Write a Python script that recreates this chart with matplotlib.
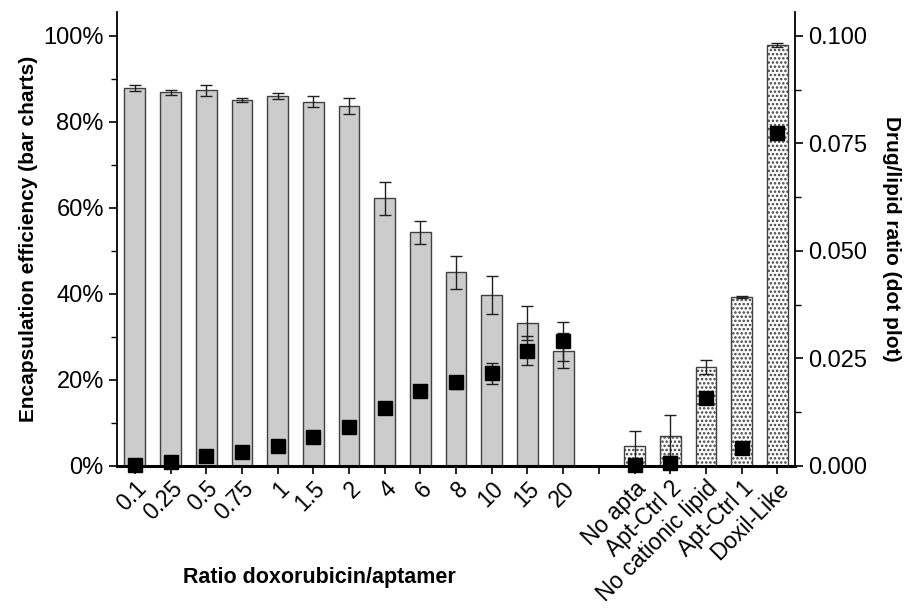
import numpy as np
import matplotlib.pyplot as plt
from matplotlib.ticker import MultipleLocator, FuncFormatter

plt.rcParams['font.family'] = ['Liberation Sans', 'DejaVu Sans']
plt.rcParams['hatch.linewidth'] = 1.2

ratios = ['0.1', '0.25', '0.5', '0.75', '1', '1.5', '2', '4', '6', '8', '10', '15', '20']
controls = ['No apta', 'Apt-Ctrl 2', 'No cationic lipid', 'Apt-Ctrl 1', 'Doxil-Like']

# encapsulation efficiency (%) with error
ee_ratio = [87.8, 86.9, 87.3, 85.0, 86.0, 84.7, 83.7, 62.2, 54.3, 45.0, 39.8, 33.2, 26.8]
ee_ratio_err = [0.7, 0.6, 1.35, 0.45, 0.6, 1.2, 1.9, 3.75, 2.6, 3.9, 4.4, 3.9, 4.0]
ee_ctrl = [4.7, 7.0, 22.9, 39.3, 97.8]
ee_ctrl_err = [3.3, 4.8, 1.65, 0.3, 0.5]

# drug/lipid ratio (dots)
dl_ratio = [0.0002, 0.0009, 0.0022, 0.0032, 0.0046, 0.0067, 0.0090, 0.0134, 0.0175,
            0.0194, 0.0215, 0.0268, 0.0290]
dl_ratio_err = [0, 0, 0, 0, 0, 0, 0, 0, 0, 0.0015, 0.0024, 0.0033, 0.0045]
dl_ctrl = [0.0003, 0.0006, 0.0157, 0.0041, 0.0775]
dl_ctrl_err = [0, 0, 0, 0, 0]

x_ratio = np.arange(len(ratios))
x_ctrl = np.arange(len(controls)) + len(ratios) + 1

fig = plt.figure(figsize=(9.14, 6.09), dpi=100)
ax = fig.add_axes([0.128, 0.235, 0.742, 0.745])

w = 0.58
ax.bar(x_ratio, ee_ratio, width=w, color='#cccccc', edgecolor='#404040', linewidth=1.0, zorder=2)
ax.errorbar(x_ratio, ee_ratio, yerr=ee_ratio_err, fmt='none', ecolor='#202020',
            elinewidth=1.0, capsize=4, capthick=1.0, zorder=3)
ax.bar(x_ctrl, ee_ctrl, width=w, color='white', edgecolor='#404040', linewidth=1.0,
       hatch='....', zorder=2)
ax.errorbar(x_ctrl, ee_ctrl, yerr=ee_ctrl_err, fmt='none', ecolor='#202020',
            elinewidth=1.0, capsize=4, capthick=1.0, zorder=3)

ax.set_xlim(-0.5, 18.5)
ax.set_ylim(0, 105.5)
ax.yaxis.set_major_locator(MultipleLocator(20))
ax.yaxis.set_minor_locator(MultipleLocator(10))
ax.yaxis.set_major_formatter(FuncFormatter(lambda v, p: f'{v:.0f}%'))

ticks = list(x_ratio) + [len(ratios)] + list(x_ctrl)
labels = ratios + [''] + controls
ax.set_xticks(ticks)
ax.set_xticklabels(labels, rotation=45, ha='right', rotation_mode='anchor', fontsize=16.5)
ax.tick_params(axis='y', labelsize=17, width=1.2, length=6)
ax.tick_params(axis='y', which='minor', width=1.0, length=4)
ax.tick_params(axis='x', width=1.2, length=6, pad=2)

ax.spines['top'].set_visible(False)
ax.spines['right'].set_visible(False)
ax.spines['left'].set_linewidth(1.3)
ax.spines['bottom'].set_linewidth(2.2)
ax.spines['bottom'].set_zorder(5)

ax2 = ax.twinx()
ax2.set_ylim(0, 0.1055)
ax2.errorbar(list(x_ratio) + list(x_ctrl), dl_ratio + dl_ctrl,
             yerr=dl_ratio_err + dl_ctrl_err, fmt='s', color='black', markersize=9.5,
             ecolor='#202020', elinewidth=1.0, capsize=4, capthick=1.0, zorder=4, clip_on=False)
ax2.yaxis.set_major_locator(MultipleLocator(0.025))
ax2.yaxis.set_minor_locator(MultipleLocator(0.0125))
ax2.yaxis.set_major_formatter(FuncFormatter(lambda v, p: f'{v:.3f}'))
ax2.tick_params(axis='y', labelsize=17, width=1.2, length=6)
ax2.tick_params(axis='y', which='minor', width=1.0, length=4)
ax2.spines['top'].set_visible(False)
ax2.spines['left'].set_visible(False)
ax2.spines['bottom'].set_visible(False)
ax2.spines['right'].set_linewidth(1.3)

ax.set_ylabel('Encapsulation efficiency (bar charts)', fontsize=15, fontweight='bold',
              labelpad=4)
ax2.set_ylabel('Drug/lipid ratio (dot plot)', fontsize=15, fontweight='bold',
               rotation=270, labelpad=24)
ax.text(0.298, -0.245, 'Ratio doxorubicin/aptamer', transform=ax.transAxes, ha='center',
        va='center', fontsize=15.5, fontweight='bold')

fig.savefig('out.png', dpi=100)
